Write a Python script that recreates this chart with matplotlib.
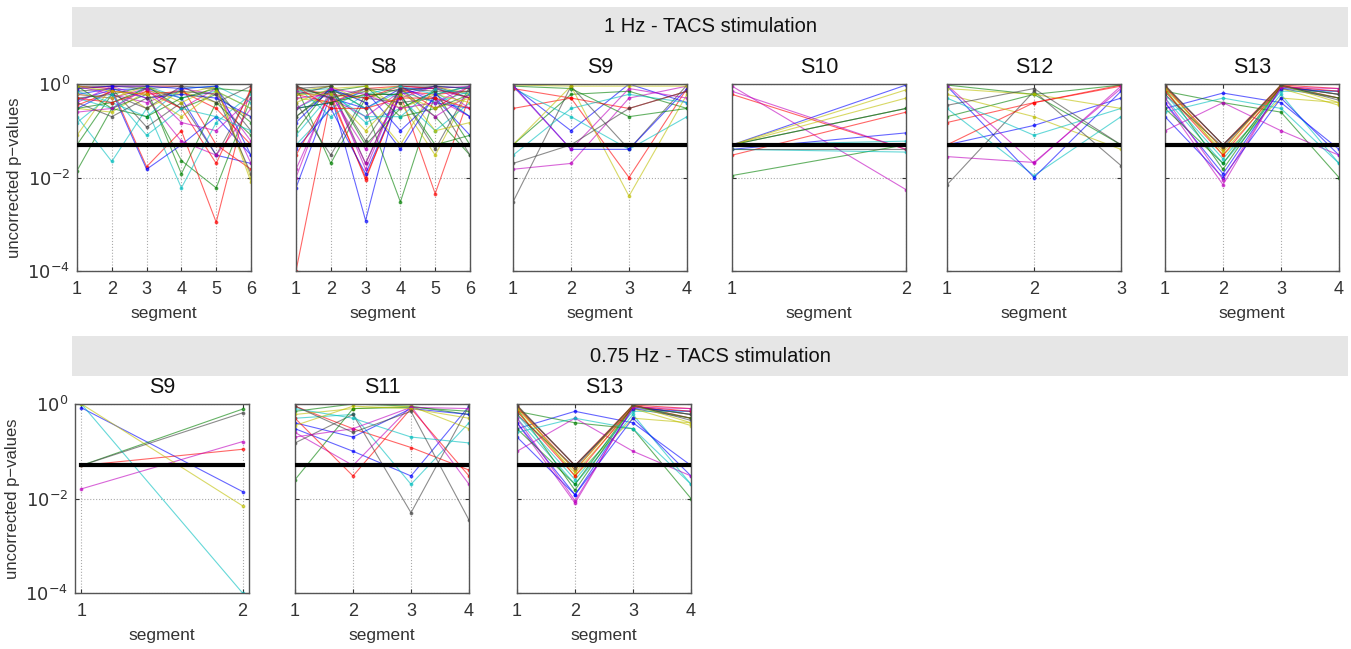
import matplotlib
matplotlib.use("Agg")
import matplotlib.pyplot as plt
from matplotlib.patches import Rectangle

plt.rcParams['font.family'] = ['Liberation Sans', 'DejaVu Sans']

# ---------------- data ----------------
ROW1_TITLE = "1 Hz - TACS stimulation"
ROW2_TITLE = "0.75 Hz - TACS stimulation"
THRESHOLD = 0.05

row1_subjects = ["S7", "S8", "S9", "S10", "S12", "S13"]
row2_subjects = ["S9", "S11", "S13"]

S7_1hz = [
    [0.45, 0.75, 0.8, 0.5, 0.03, 0.02], [0.014, 0.3, 0.6, 0.023, 0.006, 0.5],
    [0.9, 0.8, 0.017, 0.1, 0.0011, 0.9], [0.2, 0.022, 0.3, 0.006, 0.15, 0.6],
    [0.6, 0.5, 0.8, 0.3, 0.8, 0.02], [0.3, 0.25, 0.7, 0.6, 0.9, 0.01],
    [0.7, 0.8, 0.12, 0.4, 0.03, 0.7], [0.3, 0.7, 0.015, 0.05, 0.2, 0.03],
    [0.05, 0.6, 0.9, 0.3, 0.6, 0.15], [0.8, 0.9, 0.9, 0.9, 0.05, 0.015],
    [0.5, 0.3, 0.9, 0.5, 0.7, 0.3], [0.9, 0.6, 0.4, 0.8, 0.6, 0.06],
    [0.08, 0.9, 0.3, 0.7, 0.4, 0.2], [0.9, 0.9, 0.8, 0.9, 0.8, 0.1],
    [0.6, 0.8, 0.5, 0.6, 0.5, 0.2], [0.3, 0.4, 0.8, 0.012, 0.4, 0.08],
    [0.35, 0.7, 0.6, 0.7, 0.3, 0.05], [0.7, 0.4, 0.2, 0.8, 0.9, 0.4],
    [0.4, 0.9, 0.5, 0.06, 0.03, 0.3], [0.6, 0.5, 0.9, 0.4, 0.9, 0.008],
    [0.5, 0.6, 0.3, 0.9, 0.4, 0.9], [0.8, 0.9, 0.9, 0.8, 0.9, 0.03],
    [0.9, 0.3, 0.2, 0.5, 0.8, 0.7], [0.5, 0.4, 0.7, 0.3, 0.02, 0.8],
    [0.15, 0.6, 0.08, 0.3, 0.2, 0.1], [0.25, 0.3, 0.8, 0.15, 0.1, 0.5],
    [0.9, 0.7, 0.6, 0.2, 0.7, 0.3], [0.4, 0.2, 0.5, 0.7, 0.6, 0.012],
]

S8_1hz = [
    [0.006, 0.6, 0.0012, 0.9, 0.4, 0.3], [0.2, 0.8, 0.3, 0.003, 0.6, 0.9],
    [0.0001, 0.5, 0.01, 0.6, 0.0045, 0.6], [0.3, 0.7, 0.15, 0.3, 0.7, 0.2],
    [0.01, 0.9, 0.015, 0.9, 0.8, 0.9], [0.5, 0.4, 0.6, 0.4, 0.03, 0.8],
    [0.8, 0.9, 0.02, 0.9, 0.9, 0.5], [0.3, 0.4, 0.7, 0.1, 0.5, 0.08],
    [0.9, 0.02, 0.5, 0.8, 0.2, 0.03], [0.8, 0.6, 0.009, 0.7, 0.6, 0.7],
    [0.05, 0.3, 0.8, 0.5, 0.1, 0.4], [0.015, 0.7, 0.02, 0.8, 0.5, 0.2],
    [0.7, 0.9, 0.4, 0.05, 0.9, 0.6], [0.4, 0.03, 0.6, 0.6, 0.04, 0.9],
    [0.9, 0.5, 0.3, 0.8, 0.8, 0.5], [0.1, 0.9, 0.05, 0.3, 0.7, 0.05],
    [0.6, 0.4, 0.8, 0.9, 0.3, 0.9], [0.7, 0.8, 0.3, 0.7, 0.4, 0.7],
    [0.5, 0.6, 0.04, 0.5, 0.9, 0.3], [0.9, 0.5, 0.7, 0.9, 0.1, 0.15],
    [0.2, 0.7, 0.5, 0.4, 0.5, 0.03], [0.04, 0.3, 0.012, 0.6, 0.9, 0.8],
    [0.6, 0.7, 0.9, 0.2, 0.3, 0.6], [0.03, 0.6, 0.5, 0.9, 0.8, 0.5],
    [0.9, 0.2, 0.6, 0.9, 0.6, 0.9], [0.7, 0.5, 0.2, 0.7, 0.2, 0.6],
    [0.4, 0.8, 0.9, 0.3, 0.6, 0.4], [0.6, 0.9, 0.06, 0.8, 0.7, 0.7],
    [0.15, 0.8, 0.4, 0.04, 0.6, 0.2], [0.3, 0.4, 0.6, 0.6, 0.05, 0.08],
    [0.9, 0.3, 0.3, 0.5, 0.5, 0.3], [0.08, 0.6, 0.2, 0.2, 0.8, 0.6],
    [0.3, 0.8, 0.6, 0.3, 0.4, 0.9], [0.6, 0.6, 0.1, 0.6, 0.3, 0.5],
    [0.9, 0.5, 0.8, 0.7, 0.9, 0.8],
]

S9_1hz = [
    [0.9, 0.1, 1.0, 0.4], [0.05, 0.6, 0.7, 0.3], [0.3, 0.5, 0.01, 0.8],
    [0.8, 0.2, 0.04, 0.2], [0.015, 0.02, 0.5, 0.9], [0.95, 0.9, 0.004, 0.6],
    [0.003, 0.9, 0.04, 0.95], [0.95, 0.04, 0.04, 0.8], [0.9, 0.8, 0.2, 0.3],
    [0.8, 0.5, 0.3, 0.7], [0.03, 0.3, 0.6, 0.4], [0.9, 0.04, 0.8, 0.5],
    [0.05, 0.9, 0.9, 0.9], [0.02, 0.05, 0.3, 0.7],
]

S10_1hz = [
    [0.05, 0.95], [0.011, 0.05], [0.6, 0.04], [0.05, 0.06], [0.9, 0.0055],
    [0.05, 0.75], [0.05, 0.3], [0.04, 0.09], [0.05, 0.3], [0.03, 0.25],
    [0.04, 0.035], [0.7, 0.04], [0.05, 0.5], [0.04, 0.04],
]

S12_1hz = [
    [0.05, 0.13, 0.5], [0.2, 0.6, 0.05], [0.15, 0.4, 0.95], [0.3, 0.011, 0.2],
    [0.028, 0.021, 0.8], [0.6, 0.2, 0.04], [0.007, 0.7, 0.018], [0.9, 0.01, 0.7],
    [0.95, 0.6, 0.95], [0.05, 0.4, 0.9], [0.5, 0.08, 0.3], [0.95, 0.02, 0.9],
    [0.8, 0.6, 0.3], [0.35, 0.8, 0.05],
]

S13_1hz = [
    [0.3, 0.64, 0.4, 0.04], [0.7, 0.4, 0.25, 0.01], [0.9, 0.05, 0.95, 0.8],
    [0.5, 0.02, 0.6, 0.02], [0.4, 0.007, 0.9, 0.6], [0.95, 0.03, 0.5, 0.4],
    [0.95, 0.05, 0.8, 0.5], [0.2, 0.01, 0.5, 0.03], [0.8, 0.015, 0.9, 0.6],
    [0.85, 0.04, 0.95, 0.5], [0.6, 0.025, 0.7, 0.7], [0.1, 0.4, 0.1, 0.03],
    [0.7, 0.035, 0.8, 0.35], [0.9, 0.05, 0.9, 0.6], [0.4, 0.012, 0.8, 0.7],
    [0.3, 0.02, 0.9, 0.5], [0.7, 0.03, 0.9, 0.7], [0.25, 0.5, 0.3, 0.02],
    [0.5, 0.009, 0.85, 0.8], [0.8, 0.04, 0.95, 0.4], [0.6, 0.045, 0.95, 0.45],
]

S9_075hz = [
    [0.83, 0.014], [0.05, 0.78], [0.05, 0.11], [1.0, 0.0001],
    [0.016, 0.16], [1.0, 0.007], [0.05, 0.65],
]

S11_075hz = [
    [0.3, 0.1, 0.03, 0.9], [0.7, 1.0, 0.9, 0.6], [0.9, 0.3, 0.12, 0.04],
    [0.5, 0.6, 0.02, 0.4], [0.25, 0.05, 0.9, 0.02], [0.6, 0.8, 0.9, 0.3],
    [0.15, 0.6, 0.005, 0.9], [0.4, 0.2, 0.8, 0.6], [0.025, 0.8, 0.85, 0.7],
    [0.5, 0.03, 0.8, 0.03], [0.8, 0.5, 0.2, 0.15], [0.2, 0.3, 0.85, 0.8],
    [0.35, 0.9, 0.8, 0.5], [0.9, 0.25, 0.7, 0.0035],
]

S13_075hz = [
    [0.3, 0.7, 0.4, 0.05], [0.7, 0.4, 0.3, 0.01], [0.9, 0.05, 0.95, 0.8],
    [0.5, 0.02, 0.6, 0.02], [0.4, 0.008, 0.9, 0.6], [0.95, 0.03, 0.5, 0.4],
    [0.95, 0.05, 0.8, 0.5], [0.2, 0.012, 0.5, 0.03], [0.8, 0.015, 0.9, 0.6],
    [0.85, 0.04, 0.95, 0.5], [0.6, 0.025, 0.7, 0.7], [0.1, 0.5, 0.1, 0.03],
    [0.7, 0.035, 0.8, 0.35], [0.9, 0.05, 0.9, 0.6], [0.4, 0.012, 0.8, 0.7],
    [0.3, 0.02, 0.9, 0.5], [0.7, 0.03, 0.9, 0.7], [0.25, 0.5, 0.3, 0.02],
    [0.5, 0.009, 0.85, 0.8], [0.8, 0.04, 0.95, 0.4], [0.6, 0.045, 0.95, 0.45],
]

row1_data = [S7_1hz, S8_1hz, S9_1hz, S10_1hz, S12_1hz, S13_1hz]
row2_data = [S9_075hz, S11_075hz, S13_075hz]

# ---------------- style ----------------
MATLAB_COLORS = [(0, 0, 1), (0, 0.5, 0), (1, 0, 0), (0, 0.75, 0.75),
                 (0.75, 0, 0.75), (0.75, 0.75, 0), (0.25, 0.25, 0.25)]
W, H = 1351, 649
fig = plt.figure(figsize=(W / 100, H / 100), dpi=100)

def px_axes(left, top, width, height):
    return fig.add_axes([left / W, 1 - (top + height) / H, width / W, height / H])

def banner(top, bottom, text):
    fig.patches.append(Rectangle((72 / W, 1 - bottom / H), (1348 - 72) / W,
                                 (bottom - top) / H, transform=fig.transFigure,
                                 facecolor='#e6e6e6', edgecolor='none'))
    fig.text(710 / W, 1 - (top + bottom) / 2 / H, text, ha='center', va='center',
             fontsize=14.5, color='#111111')

banner(7, 47, ROW1_TITLE)
banner(336, 376, ROW2_TITLE)

def draw_panel(ax, title, series, ylabel, xpad):
    n = len(series[0])
    xs = list(range(1, n + 1))
    for i, s in enumerate(series):
        c = MATLAB_COLORS[i % len(MATLAB_COLORS)]
        ax.plot(xs, s, '-', color=c, lw=0.8, alpha=0.6, marker='.',
                markersize=3.5, zorder=2)
    ax.plot([1, n], [THRESHOLD, THRESHOLD], color='black', lw=3, zorder=3)
    ax.set_yscale('log')
    ax.set_ylim(1e-4, 1)
    ax.set_xlim(1 - xpad, n + xpad)
    ax.set_xticks(xs)
    ax.set_xticklabels([str(x) for x in xs])
    ax.set_yticks([1e-4, 1e-2, 1])
    ax.yaxis.set_minor_locator(matplotlib.ticker.NullLocator())
    if ylabel:
        ax.set_yticklabels([r'$10^{-4}$', r'$10^{-2}$', r'$10^{0}$'])
        ax.set_ylabel('uncorrected p\u2212values', fontsize=12, color='#333333',
                      labelpad=4)
    else:
        ax.set_yticklabels([])
    ax.grid(True, which='major', linestyle=':', color='#aaaaaa', lw=0.8)
    ax.tick_params(direction='in', length=3, labelsize=13, colors='#333333',
                   top=True, right=True)
    ax.tick_params(axis='x', pad=7)
    ax.tick_params(axis='y', pad=5)
    for sp in ax.spines.values():
        sp.set_color('#555555')
        sp.set_linewidth(1.0)
    ax.set_xlabel('segment', fontsize=12.5, color='#333333', labelpad=6)
    ax.set_title(title, fontsize=15.5, color='#111111', pad=8)

row1_lefts = [77, 296, 513, 732, 947, 1165]
for j, (name, data) in enumerate(zip(row1_subjects, row1_data)):
    ax = px_axes(row1_lefts[j], 84, 174, 187)
    draw_panel(ax, name, data, j == 0, 0.0)

row2_lefts = [75, 295, 517]
row2_pads = [0.04, 0.0, 0.0]
for j, (name, data) in enumerate(zip(row2_subjects, row2_data)):
    ax = px_axes(row2_lefts[j], 404, 174, 189)
    draw_panel(ax, name, data, j == 0, row2_pads[j])

fig.savefig('out.png', dpi=100)
